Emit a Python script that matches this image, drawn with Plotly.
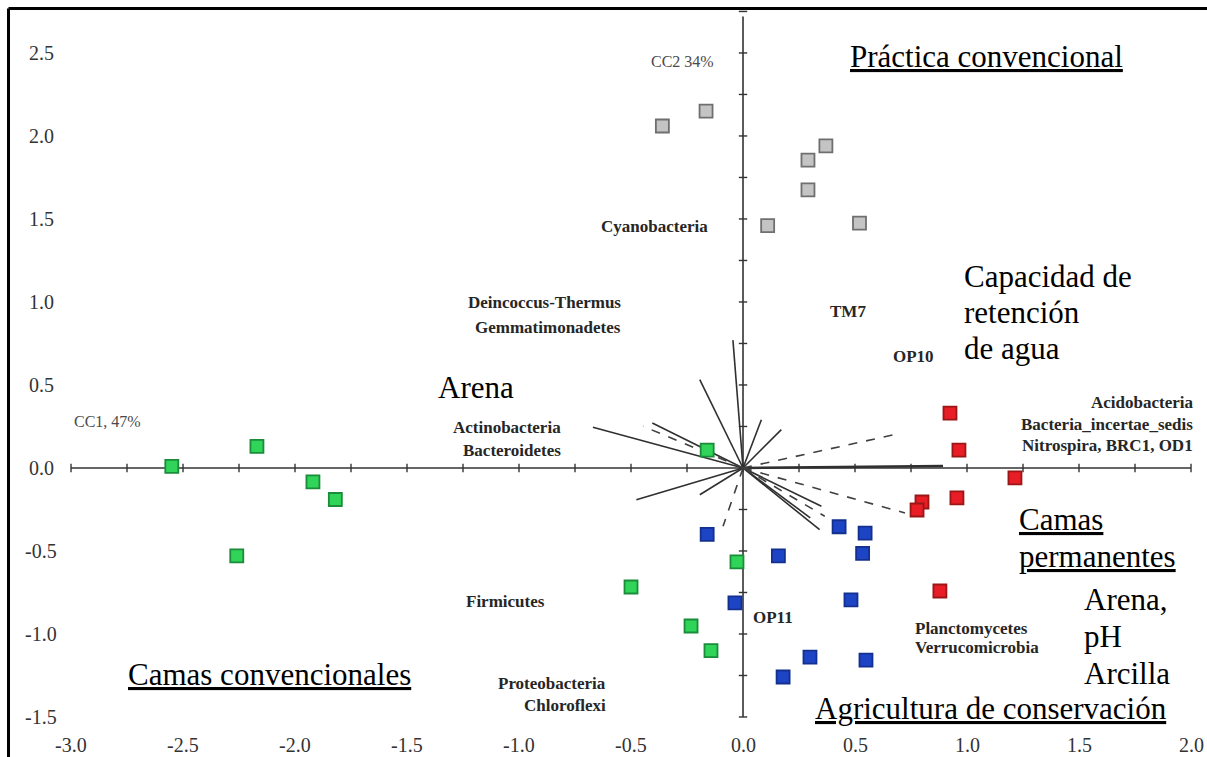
import plotly.graph_objects as go

# ---------------- data ----------------
# Site scores, by management group
conv_x = [-0.36, -0.165, 0.37, 0.29, 0.29, 0.11, 0.52]            # Práctica convencional (gray)
conv_y = [2.06, 2.15, 1.94, 1.855, 1.675, 1.46, 1.475]
camconv_x = [-2.55, -2.17, -1.92, -1.82, -2.26, -0.16, -0.027, -0.50, -0.232, -0.143]  # Camas convencionales (green)
camconv_y = [0.01, 0.13, -0.084, -0.19, -0.53, 0.108, -0.566, -0.717, -0.952, -1.10]
agcons_x = [-0.16, 0.158, 0.429, 0.545, 0.534, -0.036, 0.482, 0.299, 0.549, 0.179]   # Agricultura de conservación (blue)
agcons_y = [-0.40, -0.53, -0.354, -0.393, -0.514, -0.813, -0.795, -1.139, -1.157, -1.259]
camperm_x = [0.924, 0.964, 1.214, 0.955, 0.799, 0.777, 0.879]     # Camas permanentes (red)
camperm_y = [0.331, 0.108, -0.06, -0.18, -0.205, -0.253, -0.741]

# Biplot vectors (phyla: solid, environmental: dashed)
vec_solid_x = [-0.045, -0.193, -0.67, -0.405, 0.082, 0.171, -0.476, -0.193, 0.35, 0.342, 0.30]
vec_solid_y = [0.77, 0.532, 0.245, 0.271, 0.291, 0.231, -0.191, -0.161, -0.231, -0.372, -0.30]
vec_main_x = [0.893]
vec_main_y = [0.012]
vec_dash_x = [-0.446, -0.089, 0.365, 0.723, 0.67]
vec_dash_y = [0.251, -0.351, -0.291, -0.271, 0.199]

# Axis ticks
x_ticks = [-3.0, -2.5, -2.0, -1.5, -1.0, -0.5, 0.0, 0.5, 1.0, 1.5, 2.0]
y_ticks = [2.5, 2.0, 1.5, 1.0, 0.5, 0.0, -0.5, -1.0, -1.5]
x_tick_labels = ["-3.0", "-2.5", "-2.0", "-1.5", "-1.0", "-0.5", "0.0", "0.5", "1.0", "1.5", "2.0"]
y_tick_labels = ["2.5", "2.0", "1.5", "1.0", "0.5", "0.0", "-0.5", "-1.0", "-1.5"]

# ---------------- figure ----------------
W, H = 1207, 757
XR = [-3.317, 2.0714]
YR = [-1.741, 2.819]
AXC = "#333333"

fig = go.Figure()

# cross axes
fig.add_trace(go.Scatter(x=[x_ticks[0], x_ticks[-1]], y=[0, 0], mode="lines",
                         line=dict(color=AXC, width=1.6), hoverinfo="skip", showlegend=False))
fig.add_trace(go.Scatter(x=[0, 0], y=[y_ticks[-1], 2.72], mode="lines",
                         line=dict(color=AXC, width=1.6), hoverinfo="skip", showlegend=False))
minor_x = [x_ticks[0] + 0.25 * i for i in range(int(round((x_ticks[-1] - x_ticks[0]) / 0.25)) + 1)]
minor_y = [y_ticks[-1] + 0.25 * i for i in range(int(round((y_ticks[0] - y_ticks[-1]) / 0.25)) + 2)]
fig.add_trace(go.Scatter(x=minor_x, y=[0] * len(minor_x), mode="markers",
                         marker=dict(symbol="line-ns", size=6, line=dict(color=AXC, width=1.4)),
                         hoverinfo="skip", showlegend=False))
fig.add_trace(go.Scatter(x=[0] * len(minor_y), y=minor_y, mode="markers",
                         marker=dict(symbol="line-ew", size=6, line=dict(color=AXC, width=1.4)),
                         hoverinfo="skip", showlegend=False))


def seg(xs, ys):
    X, Y = [], []
    for a, b in zip(xs, ys):
        X += [0, a, None]
        Y += [0, b, None]
    return X, Y


sx, sy = seg(vec_solid_x, vec_solid_y)
fig.add_trace(go.Scatter(x=sx, y=sy, mode="lines", line=dict(color="#303030", width=1.6),
                         hoverinfo="skip", showlegend=False))
mx, my = seg(vec_main_x, vec_main_y)
fig.add_trace(go.Scatter(x=mx, y=my, mode="lines", line=dict(color="#303030", width=2.6),
                         hoverinfo="skip", showlegend=False))
dx, dy = seg(vec_dash_x, vec_dash_y)
fig.add_trace(go.Scatter(x=dx, y=dy, mode="lines", line=dict(color="#404040", width=1.6, dash="dash"),
                         hoverinfo="skip", showlegend=False))

# site scores
groups = [
    ("Práctica convencional", conv_x, conv_y, "#c4c4c4", "#6f6f6f"),
    ("Camas convencionales", camconv_x, camconv_y, "#2fd458", "#1a8c3a"),
    ("Agricultura de conservación", agcons_x, agcons_y, "#1e44c6", "#13308f"),
    ("Camas permanentes", camperm_x, camperm_y, "#e91d25", "#9b1717"),
]
for name, gx, gy, fc, lc in groups:
    fig.add_trace(go.Scatter(x=gx, y=gy, mode="markers", name=name,
                             marker=dict(symbol="square", size=13, color=fc, line=dict(color=lc, width=1.8)),
                             showlegend=False))

ann = []
SERIF = "Liberation Serif, Times New Roman, serif"

# tick labels
for v, t in zip(x_ticks, x_tick_labels):
    ann.append(dict(x=v, y=1 - 745 / H, xref="x", yref="paper", text=t, showarrow=False,
                    font=dict(family=SERIF, size=20, color="#333333"), xanchor="center", yanchor="middle"))
for v, t in zip(y_ticks, y_tick_labels):
    ann.append(dict(x=41 / W, y=v, xref="paper", yref="y", text=t, showarrow=False,
                    font=dict(family=SERIF, size=20, color="#333333"), xanchor="center", yanchor="middle"))

# small labels: (text, x, y, xanchor, bold)
small = [
    ("CC2 34%", -0.268, 2.446, "center", False),
    ("CC1, 47%", -2.839, 0.277, "center", False),
    ("Cyanobacteria", -0.147, 1.452, "right", True),
    ("Deincoccus-Thermus", -0.536, 0.994, "right", True),
    ("Gemmatimonadetes", -0.536, 0.849, "right", True),
    ("Actinobacteria", -0.804, 0.241, "right", True),
    ("Bacteroidetes", -0.804, 0.108, "right", True),
    ("TM7", 0.469, 0.94, "center", True),
    ("OP10", 0.759, 0.669, "center", True),
    ("Acidobacteria", 2.018, 0.392, "right", True),
    ("Bacteria_incertae_sedis", 2.018, 0.259, "right", True),
    ("Nitrospira, BRC1, OD1", 2.018, 0.133, "right", True),
    ("Planctomycetes", 0.759, -0.964, "left", True),
    ("Verrucomicrobia", 0.759, -1.084, "left", True),
    ("OP11", 0.134, -0.898, "center", True),
    ("Firmicutes", -1.0625, -0.807, "center", True),
    ("Proteobacteria", -0.603, -1.301, "right", True),
    ("Chloroflexi", -0.603, -1.428, "right", True),
]
for t, x, y, xa, b in small:
    ann.append(dict(x=x, y=y, xref="x", yref="y", text=f"<b>{t}</b>" if b else t, showarrow=False,
                    font=dict(family=SERIF, size=17 if b else 16, color="#262626" if b else "#4a4a4a"),
                    xanchor=xa, yanchor="middle"))

# large labels: (text, x, y, xanchor, underline)
big = [
    ("Práctica convencional", 1.085, 2.476, "center", True),
    ("Arena", -1.192, 0.482, "center", False),
    ("Capacidad de", 0.978, 1.151, "left", False),
    ("retención", 0.978, 0.934, "left", False),
    ("de agua", 0.978, 0.717, "left", False),
    ("Camas", 1.223, -0.313, "left", True),
    ("permanentes", 1.223, -0.536, "left", True),
    ("Arena,", 1.513, -0.795, "left", False),
    ("pH", 1.513, -1.018, "left", False),
    ("Arcilla", 1.513, -1.235, "left", False),
    ("Camas convencionales", -2.116, -1.241, "center", True),
    ("Agricultura de conservación", 1.107, -1.446, "center", True),
]
for t, x, y, xa, u in big:
    f = dict(family=SERIF, size=31, color="#000000")
    if u:
        f["lineposition"] = "under"
    ann.append(dict(x=x, y=y, xref="x", yref="y", text=t, showarrow=False, font=f,
                    xanchor=xa, yanchor="middle"))

# outer frame (left and top edges visible)
shapes = [
    dict(type="line", xref="paper", yref="paper", x0=8.5 / W, x1=8.5 / W, y0=0, y1=1 - 8.5 / H,
         line=dict(color="#000000", width=3)),
    dict(type="line", xref="paper", yref="paper", x0=8.5 / W, x1=1, y0=1 - 8.5 / H, y1=1 - 8.5 / H,
         line=dict(color="#000000", width=3)),
]

fig.update_layout(
    width=W, height=H,
    margin=dict(l=0, r=0, t=0, b=0),
    paper_bgcolor="white", plot_bgcolor="white",
    xaxis=dict(range=XR, visible=False, fixedrange=True),
    yaxis=dict(range=YR, visible=False, fixedrange=True),
    annotations=ann, shapes=shapes,
    showlegend=False,
)

fig.write_html("out.html")
